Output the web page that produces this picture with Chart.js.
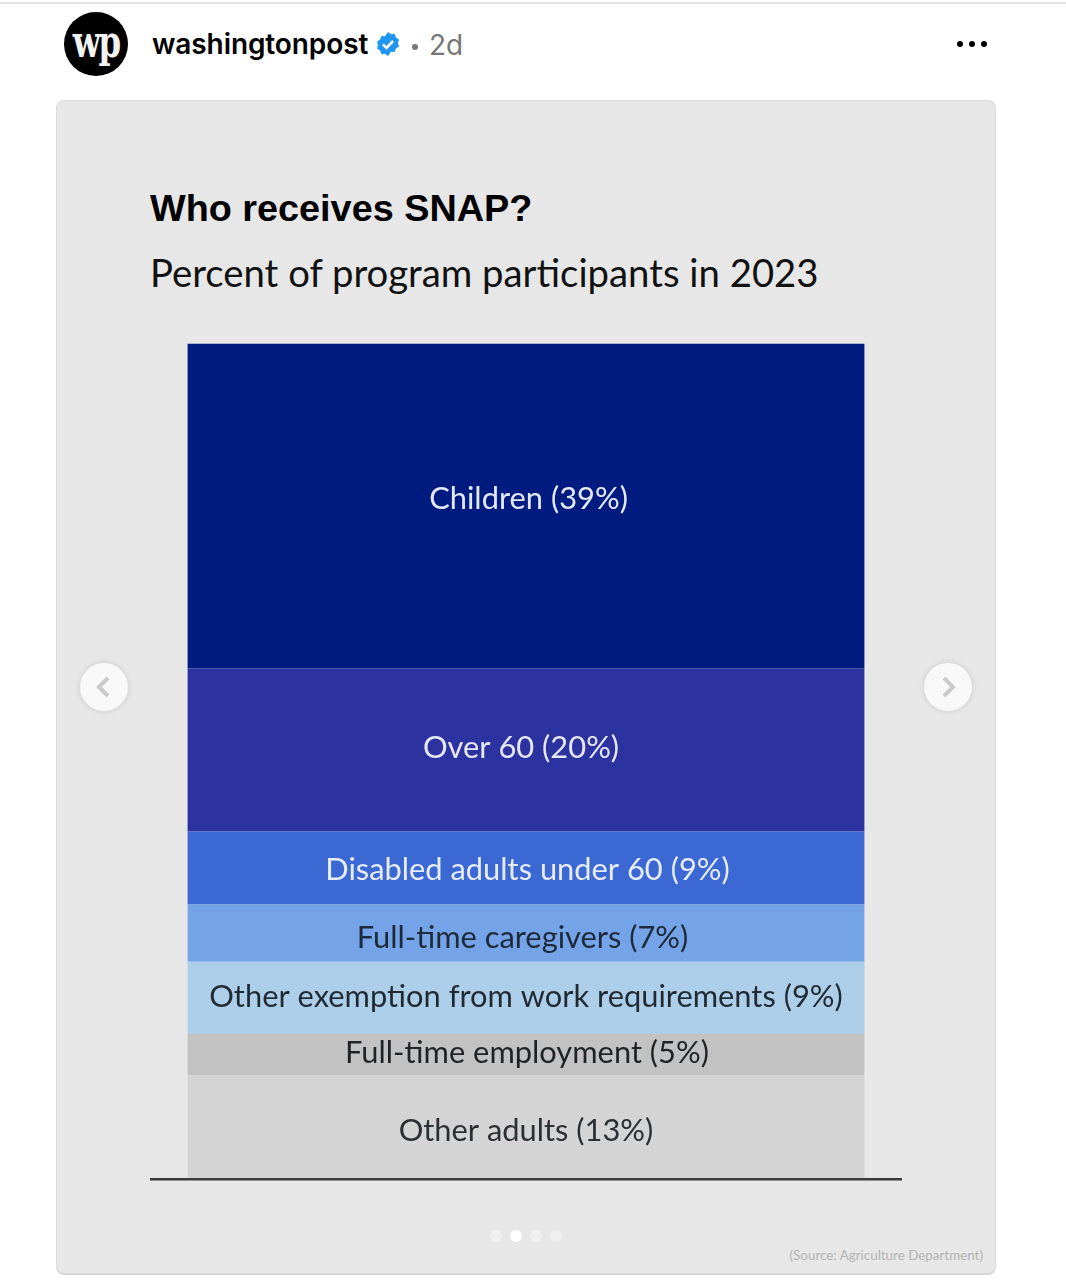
<!DOCTYPE html>
<html>
<head>
<meta charset="utf-8">
<title>Who receives SNAP?</title>
<script src="https://cdn.jsdelivr.net/npm/chart.js@4"></script>
<style>
    html, body { margin: 0; padding: 0; background: #fff; }
    body { position: relative; width: 1066px; height: 1288px; overflow: hidden; font-family: Inter, sans-serif; }
    .abs { position: absolute; white-space: nowrap; }
    #topRule { left: 0; top: 2px; width: 1066px; height: 2px; background: #e3e3e3; }
    #logo { left: 64px; top: 12px; width: 64px; height: 64px; border-radius: 50%; background: #000; color: #f2f2f2; font: bold 36px/58px "DejaVu Serif Condensed", "DejaVu Serif", serif; text-align: center; letter-spacing: -2px; }
    #logo span { display: inline-block; transform: scaleY(1.25); }
    #handle { left: 152px; top: 26px; font: 600 28px/36px Inter, sans-serif; color: #000; letter-spacing: -0.1px; }
    #badge { left: 376px; top: 32px; }
    #sep { left: 412px; top: 44px; width: 6px; height: 6px; border-radius: 50%; background: #777; }
    #age { left: 429px; top: 27px; font: 400 28px/36px Inter, sans-serif; color: #777; }
    .more { top: 41px; width: 6px; height: 6px; border-radius: 50%; background: #000; }
    #card { left: 56px; top: 100px; width: 938px; height: 1172px; background: #e7e7e7; border: 1px solid #dcdcdc; border-bottom: 2px solid #d6d6d6; border-radius: 8px; }
    #title { left: 150px; top: 185px; font: bold 37.8px/46px "Liberation Sans", sans-serif; color: #000; }
    #subtitle { left: 150px; top: 249px; font: 400 38.3px/46px Lato, sans-serif; color: #111; }
    #chartBox { left: 150px; top: 343px; width: 752px; height: 840px; }
    .nav { top: 663px; width: 48px; height: 48px; border-radius: 50%; background: #f8f8f8; box-shadow: 0 0 6px rgba(0,0,0,0.12); }
    .nav svg { display: block; }
    .dot { top: 1230px; width: 12px; height: 12px; border-radius: 50%; background: #f0f0f0; }
    #source { right: 83px; top: 1246px; font: 400 13.4px/18px Lato, sans-serif; color: #b3b3b3; }
</style>
</head>
<body>
<div class="abs" id="topRule"></div>
<div class="abs" id="logo"><span>wp</span></div>
<div class="abs" id="handle">washingtonpost</div>
<svg class="abs" id="badge" width="24" height="24" viewBox="0 0 24 24">
    <path fill="#1d96f3" d="M12 0l3 2.2 3.7-.3 1.2 3.5 3.1 2-1 3.6 1 3.6-3.1 2-1.2 3.5-3.7-.3L12 24l-3-2.2-3.7.3-1.2-3.5-3.1-2 1-3.6-1-3.6 3.1-2 1.2-3.5 3.7.3z"/>
    <path fill="none" stroke="#fff" stroke-width="2.6" d="M7 12.3l3.5 3.5L17 9"/>
</svg>
<div class="abs" id="sep"></div>
<div class="abs" id="age">2d</div>
<div class="abs more" style="left:957px"></div>
<div class="abs more" style="left:969px"></div>
<div class="abs more" style="left:981px"></div>

<div class="abs" id="card"></div>
<div class="abs" id="title">Who receives SNAP?</div>
<div class="abs" id="subtitle">Percent of program participants in 2023</div>

<div class="abs" id="chartBox"><canvas id="snapChart" width="752" height="840"></canvas></div>

<div class="abs nav" style="left:80px">
    <svg width="48" height="48"><path d="M28 15l-9 9 9 9" fill="none" stroke="#cacaca" stroke-width="4"/></svg>
</div>
<div class="abs nav" style="left:924px">
    <svg width="48" height="48"><path d="M20 15l9 9-9 9" fill="none" stroke="#cacaca" stroke-width="4"/></svg>
</div>
<div class="abs dot" style="left:490px"></div>
<div class="abs dot" style="left:510px;background:#fff"></div>
<div class="abs dot" style="left:530px"></div>
<div class="abs dot" style="left:550px"></div>
<div class="abs" id="source">(Source: Agriculture Department)</div>

<script>
"use strict";

// stacked bottom to top
const categories = ["Participants"];
const labels = [
    "Other adults (13%)",
    "Full-time employment (5%)",
    "Other exemption from work requirements (9%)",
    "Full-time caregivers (7%)",
    "Disabled adults under 60 (9%)",
    "Over 60 (20%)",
    "Children (39%)"
];
// band heights as drawn in the picture, the printed percents are rounded and add up to 102
const values = [12.7, 5.0, 8.8, 7.0, 8.9, 19.9, 39.6];
const colors = ["#d4d4d4", "#c2c2c2", "#accee9", "#75a3e8", "#3c68d3", "#2c33a0", "#001b80"];
const textColors = ["#2b2f33", "#1f2326", "#1f2a33", "#1c2a3a", "#e6ecfa", "#e6e8f5", "#e4e8f4"];
// the labels are not quite centred in the original
const labelNudgeX = [0, 1, 0, -3.5, 1.5, -5, 2.5];
const labelNudgeY = [4, -1.5, -1, 4.5, 2.5, -1.5, -7];

const bandLabels = {
    id: "bandLabels",
    afterDatasetsDraw(chart) {
        const ctx = chart.ctx;
        ctx.save();
        ctx.font = "400 30.85px Lato, sans-serif";
        ctx.textAlign = "center";
        ctx.textBaseline = "middle";
        chart.data.datasets.forEach((ds, i) => {
            const bar = chart.getDatasetMeta(i).data[0];
            const mid = (bar.y + bar.base) / 2;
            ctx.fillStyle = textColors[i];
            ctx.fillText(labels[i], bar.x + labelNudgeX[i], mid + labelNudgeY[i]);
        });
        ctx.restore();
    }
};

document.addEventListener("DOMContentLoaded", () => {
    new Chart(document.getElementById("snapChart"), {
        type: "bar",
        data: {
            labels: categories,
            datasets: values.map((v, i) => ({
                label: labels[i],
                data: [v],
                backgroundColor: colors[i],
                borderWidth: 0,
                barPercentage: 1,
                categoryPercentage: 0.9
            }))
        },
        options: {
            responsive: false,
            animation: false,
            // room under the plot so the baseline is not cut by the canvas edge
            layout: { padding: { bottom: 4 } },
            scales: {
                x: {
                    stacked: true,
                    grid: { display: false, drawTicks: false },
                    border: { display: true, color: "#3a3a3a", width: 2.5, z: 1 },
                    ticks: { display: false, padding: 0 }
                },
                y: {
                    stacked: true,
                    min: 0,
                    max: 102,
                    display: false
                }
            },
            plugins: {
                legend: { display: false },
                tooltip: { enabled: false }
            }
        },
        plugins: [bandLabels]
    });
});
</script>
</body>
</html>
